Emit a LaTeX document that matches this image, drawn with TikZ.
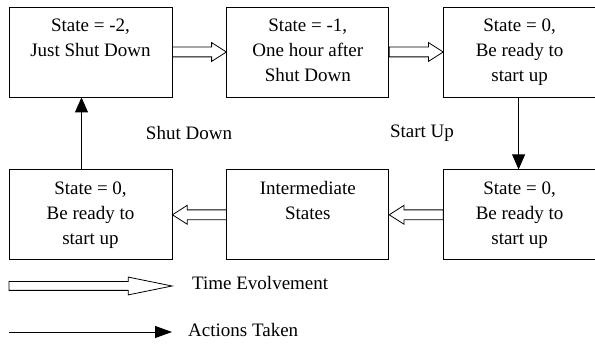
\documentclass[tikz,border=0pt]{standalone}
\usepackage{fontspec}
\setmainfont{Liberation Serif}
\usetikzlibrary{arrows.meta,positioning,shapes.arrows}

% box text, hung from the top edge
\newcommand{\boxlines}[2]{\parbox[b][90pt][t]{#1}{\centering\rule{0pt}{25pt}#2}}

\begin{document}
\begin{tikzpicture}[
  x=1pt, y=1pt,
  font=\fontsize{19}{25}\selectfont,
  state/.style={draw, line width=0.8pt, inner sep=0pt},
  timearrow/.style={draw, line width=0.8pt, single arrow, sloped, allow upside down,
    pos=0, anchor=tail, outer sep=0pt,
    minimum height=54pt, text height=4.5pt, text depth=4.5pt, text width=0pt,
    single arrow head extend=4.5pt, single arrow tip angle=65, inner sep=0pt},
  action/.style={-{Triangle[length=15pt,width=13pt]}, line width=0.8pt},
  note/.style={inner sep=0pt}
]
\useasboundingbox (0,0) rectangle (595,344);

% upper row
\node[state] (s2) at (90.5,292) {\boxlines{163pt}{State = -2,\\Just Shut Down}};
\node[state, right=54pt of s2] (s1) {\boxlines{162pt}{State = -1,\\One hour after\\Shut Down}};
\node[state, right=54pt of s1] (ready) {\boxlines{152pt}{State = 0,\\Be ready to\\start up}};

% lower row
\node[state, below=72pt of ready] (startup) {\boxlines{152pt}{State = 0,\\Be ready to\\start up}};
\node[state, left=54pt of startup] (inter) {\boxlines{162pt}{Intermediate\\States}};
\node[state, left=54pt of inter] (shut) {\boxlines{163pt}{State = 0,\\Be ready to\\start up}};

% time evolvement
\path (s2) -- node[timearrow]{} (s1);
\path (s1) -- node[timearrow]{} (ready);
\path (startup) -- node[timearrow]{} (inter);
\path (inter) -- node[timearrow]{} (shut);

% actions
\draw[action] ([xshift=-9pt]shut.north) -- ([xshift=-9pt]s2.south);
\draw[action] ([xshift=-1pt]ready.south) -- ([xshift=-1pt]startup.north);
\node[note] (lshut) at (189,211) {Shut Down};
\node[note] (lstart) at (422,211) {Start Up};

% legend
\coordinate (t0) at (9,58);
\coordinate (t1) at (172,58);
\path (t0) -- node[timearrow, minimum height=163pt, text height=4pt, text depth=4pt,
  single arrow tip angle=23]{} (t1);
\node[note, anchor=west] (ltime) at (192,61) {Time Evolvement};

\coordinate (a0) at (9,12);
\coordinate (a1) at (172,12);
\draw[-{Triangle[length=17pt,width=12pt]}, line width=0.8pt] (a0) -- (a1);
\node[note, anchor=west] (lact) at (188,14) {Actions Taken};
\end{tikzpicture}
\end{document}
